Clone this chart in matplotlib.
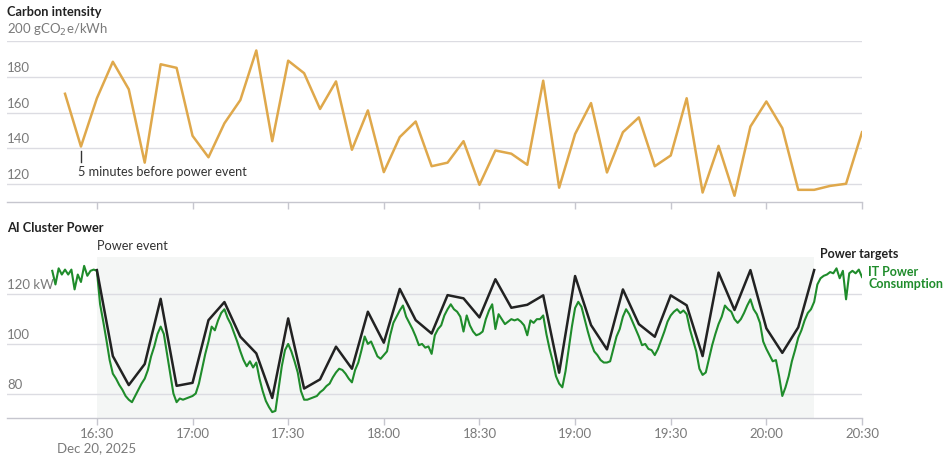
import matplotlib

matplotlib.use("Agg")
import matplotlib.pyplot as plt
import matplotlib.transforms as mtransforms
import pandas as pd

plt.rcParams.update({"font.family": ["Lato", "DejaVu Sans"], "font.size": 9})

# --- data ----------------------------------------------------------------
DAY = "2025-12-20"

# carbon intensity, gCO2e/kWh, every 5 minutes 16:20 -> 20:30
carbon_start = "16:20"
carbon = [170.5, 141, 168, 188.4, 173, 132, 187, 185, 147, 135,
          154, 167, 194.7, 144, 189, 182, 162, 177.4, 139.2, 161.2,
          126.7, 146.3, 155, 130, 132, 144, 119.6, 138.8, 137, 130.8,
          177.8, 118, 148, 165.3, 126.5, 149, 157.3, 130, 136, 168,
          115.3, 141.4, 113.5, 152.2, 166.2, 151.3, 116.8, 116.8, 119, 120.2,
          149]

# power targets, kW, every 5 minutes 16:30 -> 20:15
target_start = "16:30"
targets = [129.8, 95.1, 83.4, 91.9, 118.2, 83.1, 84.3, 109.6, 116.9, 102.9,
           96.2, 78.2, 110.3, 82, 85.7, 98.9, 90, 113, 100.5, 122.2,
           109.6, 104.2, 119.7, 118.4, 110.7, 126.1, 114.6, 115.8, 119.6, 88.4,
           127.4, 107.6, 97.8, 122, 108, 102.9, 119.6, 115.6, 95.1, 128.8,
           113.7, 129.8, 106.3, 96.4, 106.7, 129.8]

# IT power consumption, kW, every minute 16:16 -> 20:30
it_start = "16:16"
it_power = [
    129.5, 124, 130.5, 128, 130, 128, 130, 122, 128, 125, 131.5, 127.5, 129.5, 130, 129.5,
    116, 109, 101.5, 93.5, 88, 86, 83.5, 81.5, 79, 77.5,
    76.5, 79, 81.5, 84, 86, 89.5, 95, 99, 104, 107,
    104, 96, 88, 80, 76.5, 78, 77.5, 78, 78.5, 79,
    80, 84, 90, 96, 101, 107, 105.5, 109.5, 112.5, 114,
    110.5, 108, 104.5, 101, 97, 93.5, 91, 93, 90.5, 92.5,
    86, 81, 77, 74.5, 72.5, 73, 82, 91, 97.5, 100,
    97, 93, 88.5, 81, 77.5, 77.5, 78, 78.5, 79, 80.5,
    81.5, 83, 84, 86.5, 88.5, 90, 89.5, 88, 86, 84.5,
    89.5, 92.5, 97.5, 103, 100, 101, 98, 95, 94, 95.5,
    97, 103.5, 108.5, 111, 113.5, 115.5, 111, 108.5, 106, 103,
    99.5, 100, 98.5, 99, 96, 103.5, 106, 107.5, 111.5, 114,
    116, 114, 113, 111, 105, 111.5, 107.5, 105, 103.5, 104,
    105, 110, 113.5, 116, 106, 112, 110, 108, 109, 110,
    109.5, 110, 109, 107.5, 103.5, 109.5, 108.5, 110, 110, 111.5,
    104, 98, 93, 87, 84, 82.5, 89, 98, 107, 114.5,
    117, 115, 110, 105, 100.5, 97, 95.5, 93.5, 92.5, 92.5,
    93, 98, 103, 106, 111, 114, 112, 109, 106, 103,
    99.5, 100, 98, 97.5, 95.5, 98, 101.5, 105, 109, 111.5,
    113, 114, 112.5, 113.5, 112, 106, 101.5, 97, 90, 87.5,
    88.5, 94, 99.5, 104, 108, 111, 115.5, 114, 113, 110,
    108.5, 110, 112.5, 115.5, 118, 114, 112, 108.5, 101, 98,
    95.5, 93, 93.5, 87, 79, 82.5, 87, 93, 97.5, 102.5,
    105.5, 109.5, 112.5, 114, 117, 124, 126.5, 127.5, 128, 129,
    128.5, 130.5, 126.5, 129.5, 118, 128.5, 129.5, 128.5, 130, 127,
]

event_start, event_end = "16:30", "20:15"
x_ticks = ["16:30", "17:00", "17:30", "18:00", "18:30", "19:00", "19:30", "20:00", "20:30"]
x_tick_labels = ["16:30\nDec 20, 2025", "17:00", "17:30", "18:00", "18:30",
                 "19:00", "19:30", "20:00", "20:30"]
carbon_yticks = [120, 140, 160, 180, 200]
carbon_ylabels = ["120", "140", "160", "180", "200 gCO$_2$e/kWh"]
power_yticks = [80, 100, 120]
power_ylabels = ["80", "100", "120 kW"]

# --- styling --------------------------------------------------------------
GOLD = "#dfa84b"
GREEN = "#1f8c2b"
DARK = "#222222"
GRID = "#dcdce2"
AXIS = "#c6c6ce"
TICK = "#7a7a7a"
SHADE = "#f4f6f5"
FS = 9.2


def ts(hm):
    return pd.Timestamp(f"{DAY} {hm}")


carbon_t = pd.date_range(ts(carbon_start), periods=len(carbon), freq="5min")
target_t = pd.date_range(ts(target_start), periods=len(targets), freq="5min")
it_t = pd.date_range(ts(it_start), periods=len(it_power), freq="1min")
tick_t = [ts(h) for h in x_ticks]
x_left = ts("16:30") - pd.Timedelta(minutes=28.2)
x_right = ts("20:30")

fig = plt.figure(figsize=(9.48, 4.59), dpi=100)
ax1 = fig.add_axes([7 / 948, 1 - 202 / 459, 855 / 948, 161 / 459])
ax2 = fig.add_axes([7 / 948, 1 - 418.3 / 459, 855 / 948, 161.6 / 459])


def style(ax, yticks, ylabels, ylim):
    ax.set_xlim(x_left, x_right)
    ax.set_ylim(*ylim)
    for s in ("top", "left", "right"):
        ax.spines[s].set_visible(False)
    ax.spines["bottom"].set_color(AXIS)
    ax.spines["bottom"].set_linewidth(1.0)
    ax.set_yticks(yticks)
    ax.tick_params(axis="y", length=0, labelleft=False)
    ax.grid(axis="y", color=GRID, lw=1.0)
    ax.set_axisbelow(True)
    ax.set_xticks(tick_t)
    ax.tick_params(axis="x", length=5, color=AXIS, width=1.0, labelcolor=TICK,
                   labelsize=FS + 0.3, pad=2)
    trans = mtransforms.blended_transform_factory(ax.transAxes, ax.transData)
    off = mtransforms.offset_copy(trans, fig=fig, x=0, y=3, units="dots")
    for v, lab in zip(yticks, ylabels):
        ax.text(0, v, lab, transform=off, ha="left", va="bottom",
                color=TICK, fontsize=FS + 0.3)


# top: carbon intensity
style(ax1, carbon_yticks, carbon_ylabels, (110, 200))
ax1.set_xticklabels([])
ax1.plot(carbon_t, carbon, color=GOLD, lw=1.8)
fig.text(7 / 948, 1 - 12 / 459, "Carbon intensity", fontweight="bold",
         color=DARK, fontsize=FS, va="center", ha="left")
ann_t = carbon_t[1]
ax1.plot([ann_t, ann_t], [138.5, 132.5], color="#333333", lw=1.0)
ax1.text(ann_t - pd.Timedelta(minutes=1), 127, "5 minutes before power event",
         ha="left", va="center", color="#333333", fontsize=FS)

# bottom: AI cluster power
style(ax2, power_yticks, power_ylabels, (70, 135.2))
ax2.set_xticklabels(x_tick_labels)
for lab in ax2.get_xticklabels():
    lab.set_linespacing(1.2)
ax2.axvspan(ts(event_start), ts(event_end), color=SHADE, zorder=0, lw=0)
ax2.plot(it_t, it_power, color=GREEN, lw=1.5, zorder=3)
ax2.plot(target_t, targets, color=DARK, lw=1.8, zorder=4)
fig.text(7 / 948, 1 - 228 / 459, "AI Cluster Power", fontweight="bold",
         color=DARK, fontsize=FS, va="center", ha="left")
btrans = mtransforms.blended_transform_factory(ax2.transData, ax2.transAxes)
ax2.text(ts(event_start), 1.03, "Power event", transform=btrans,
         ha="left", va="bottom", color="#333333", fontsize=FS)
ax2.text(ts(event_end) + pd.Timedelta(minutes=1.8), 136.3, "Power targets",
         ha="left", va="center", color=DARK, fontweight="bold", fontsize=9,
         clip_on=False)
ax2.text(ts("20:30") + pd.Timedelta(minutes=1.9), 126.7, "IT Power\nConsumption",
         ha="left", va="center", color=GREEN, fontweight="bold", fontsize=9,
         linespacing=1.0, clip_on=False)

fig.savefig("out.png", dpi=100)
